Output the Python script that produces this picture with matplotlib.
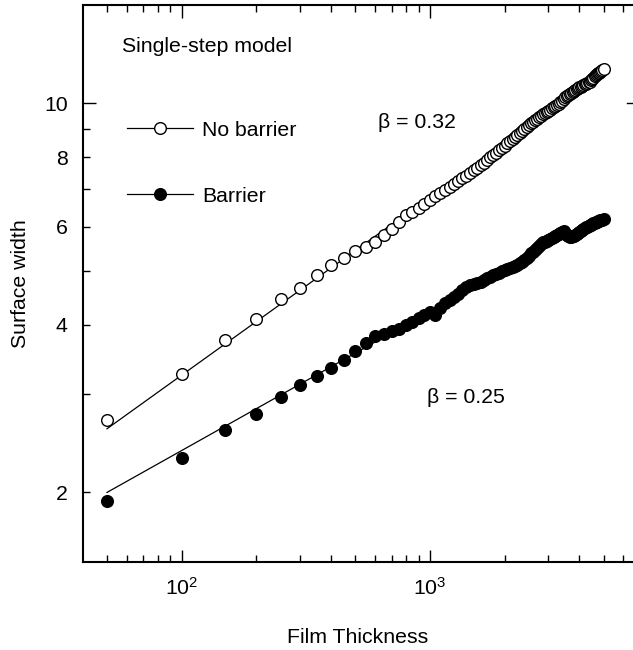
import numpy as np
import matplotlib.pyplot as plt
from matplotlib.lines import Line2D
from matplotlib.ticker import LogFormatterSciNotation, FixedLocator, NullFormatter

plt.rcParams['font.family'] = ['Liberation Sans', 'DejaVu Sans']
plt.rcParams['mathtext.fontset'] = 'custom'
plt.rcParams['mathtext.rm'] = 'Liberation Sans'
plt.rcParams['mathtext.it'] = 'Liberation Sans:italic'

FS = 15.3

# film thickness, every 50 monolayers
thickness = np.arange(50, 5001, 50)

# surface width without step-edge barrier
w_no_barrier = [
    2.70, 3.26, 3.76, 4.10, 4.44, 4.66, 4.92, 5.11, 5.26, 5.43,
    5.52, 5.64, 5.80, 5.94, 6.12, 6.30, 6.38, 6.48, 6.58, 6.69,
    6.80, 6.89, 6.99, 7.08, 7.17, 7.25, 7.33, 7.41, 7.49, 7.57,
    7.65, 7.73, 7.82, 7.91, 8.00, 8.08, 8.15, 8.23, 8.30, 8.38,
    8.46, 8.55, 8.63, 8.70, 8.77, 8.84, 8.91, 8.98, 9.05, 9.12,
    9.19, 9.25, 9.31, 9.37, 9.43, 9.49, 9.54, 9.59, 9.64, 9.69,
    9.73, 9.78, 9.83, 9.88, 9.93, 9.98, 10.03, 10.10, 10.17, 10.24,
    10.30, 10.35, 10.40, 10.44, 10.48, 10.52, 10.55, 10.59, 10.63, 10.67,
    10.70, 10.73, 10.76, 10.80, 10.83, 10.86, 10.89, 10.93, 10.98, 11.04,
    11.10, 11.16, 11.22, 11.26, 11.30, 11.34, 11.38, 11.42, 11.46, 11.50,
]

# surface width with step-edge barrier
w_barrier = [
    1.93, 2.31, 2.59, 2.77, 2.97, 3.12, 3.23, 3.35, 3.46, 3.59,
    3.71, 3.81, 3.85, 3.89, 3.93, 4.00, 4.05, 4.11, 4.17, 4.22,
    4.17, 4.28, 4.37, 4.43, 4.48, 4.55, 4.61, 4.67, 4.72, 4.74,
    4.76, 4.78, 4.82, 4.85, 4.88, 4.91, 4.94, 4.96, 4.99, 5.02,
    5.04, 5.06, 5.07, 5.10, 5.13, 5.16, 5.19, 5.22, 5.27, 5.32,
    5.37, 5.41, 5.45, 5.49, 5.54, 5.58, 5.62, 5.64, 5.66, 5.68,
    5.70, 5.72, 5.74, 5.77, 5.80, 5.83, 5.85, 5.87, 5.88, 5.84,
    5.80, 5.77, 5.75, 5.75, 5.76, 5.78, 5.80, 5.82, 5.84, 5.86,
    5.88, 5.91, 5.94, 5.96, 5.98, 6.00, 6.01, 6.03, 6.05, 6.07,
    6.09, 6.10, 6.11, 6.12, 6.14, 6.15, 6.16, 6.17, 6.17, 6.18,
]

# power-law fits w = A * t**beta
beta_no_barrier, amp_no_barrier = 0.32, 0.744
beta_barrier, amp_barrier = 0.25, 0.752

fig = plt.figure(figsize=(6.33, 6.5), dpi=100)
ax = fig.add_axes([0.131, 0.1354, 0.869, 0.857])

t_fit = np.array([thickness[0], thickness[-1]], dtype=float)
ax.plot(t_fit, amp_no_barrier * t_fit**beta_no_barrier, color='black', lw=0.9)
ax.plot(t_fit, amp_barrier * t_fit**beta_barrier, color='black', lw=0.9)

ax.plot(thickness, w_no_barrier, 'o', ms=8.4, mfc='white', mec='black', mew=1.0)
ax.plot(thickness, w_barrier, 'o', ms=8.4, mfc='black', mec='black', mew=1.0)

ax.set_xscale('log')
ax.set_yscale('log')
ax.set_xlim(40, 6570)
ax.set_ylim(1.5, 15)

# x ticks: decades labelled, minor ticks unlabelled
ax.xaxis.set_major_locator(FixedLocator([100, 1000]))
ax.xaxis.set_major_formatter(LogFormatterSciNotation())
ax.xaxis.set_minor_locator(FixedLocator([50, 60, 70, 80, 90, 200, 300, 400, 500,
                                         600, 700, 800, 900, 2000, 3000, 4000,
                                         5000, 6000]))
ax.xaxis.set_minor_formatter(NullFormatter())

# y ticks: only 10 is a decade tick, 2..9 are minor
ax.set_yticks([10], ['10'])
ax.set_yticks([2, 3, 4, 5, 6, 7, 8, 9],
              ['2', '', '4', '', '6', '', '8', ''], minor=True)

ax.tick_params(which='both', direction='in', top=True, bottom=True,
               left=True, right=False, width=1.0, labelsize=FS, pad=11)
ax.tick_params(which='major', length=9)
ax.tick_params(which='minor', length=5)
ax.spines['right'].set_visible(False)
for side in ['left', 'top', 'bottom']:
    ax.spines[side].set_linewidth(1.5)

# stray right-hand tick at w = 10
ax.plot([0.989, 1.0], [10, 10], color='black', lw=1.0,
        transform=ax.get_yaxis_transform(), clip_on=False)

ax.set_xlabel('Film Thickness', fontsize=FS, labelpad=21)
ax.set_ylabel('Surface width', fontsize=FS, labelpad=10)

ax.text(0.071, 0.926, 'Single-step model', transform=ax.transAxes,
        fontsize=FS, va='center', ha='left')
ax.text(617, 9.22, 'β = 0.32', fontsize=FS, va='center', ha='left')
ax.text(973, 2.96, 'β = 0.25', fontsize=FS, va='center', ha='left')

handles = [
    Line2D([], [], color='black', lw=0.9, marker='o', ms=8.4,
           mfc='white', mec='black', mew=1.0),
    Line2D([], [], color='black', lw=0.9, marker='o', ms=8.4,
           mfc='black', mec='black', mew=1.0),
]
ax.legend(handles, ['No barrier', 'Barrier'], loc='upper left',
          bbox_to_anchor=(0.081, 0.792), frameon=False, fontsize=FS,
          handlelength=3.1, handletextpad=0.4, labelspacing=2.2,
          borderpad=0, borderaxespad=0)

fig.savefig('out.png', dpi=100)
